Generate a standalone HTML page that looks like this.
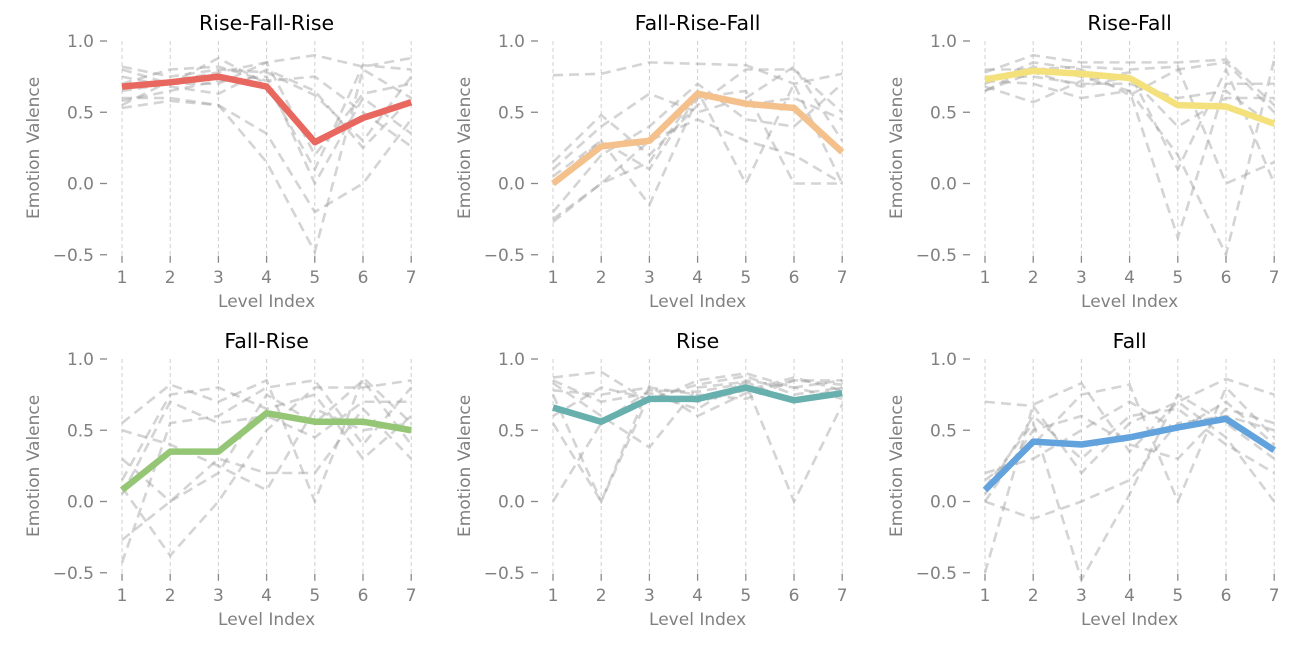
<!DOCTYPE html>
<html><head><meta charset="utf-8">
<style>
html,body{margin:0;padding:0;background:#fff;}
svg{display:block;font-family:"DejaVu Sans","Liberation Sans",sans-serif;}
</style></head>
<body>
<svg id="chart" width="1298" height="648" viewBox="0 0 1298 648" xmlns="http://www.w3.org/2000/svg"></svg>
<script>
const levels = [1,2,3,4,5,6,7];
const yTicks = [1.0, 0.5, 0.0, -0.5];
const yTickLabels = ["1.0","0.5","0.0","\u22120.5"];
const titles = ["Rise-Fall-Rise","Fall-Rise-Fall","Rise-Fall","Fall-Rise","Rise","Fall"];
const colors = ["#e8675f","#f4c08b","#f5e17b","#95c675","#67b0ae","#62a3dd"];
const meanRFR = [0.68,0.71,0.75,0.68,0.29,0.46,0.57];
const meanFRF = [0.00,0.26,0.30,0.63,0.56,0.53,0.22];
const meanRF  = [0.73,0.79,0.77,0.74,0.55,0.54,0.42];
const meanFR  = [0.08,0.35,0.35,0.62,0.56,0.56,0.50];
const meanR   = [0.66,0.56,0.72,0.72,0.80,0.71,0.76];
const meanF   = [0.08,0.42,0.40,0.45,0.52,0.58,0.36];
const grayRFR = [
 [0.80,0.70,0.88,0.70,0.10,0.83,0.80],[0.55,0.72,0.78,0.85,0.90,0.82,0.88],
 [0.75,0.68,0.63,0.80,0.65,0.25,0.60],[0.60,0.60,0.55,0.35,-0.20,0.00,0.45],
 [0.70,0.80,0.82,0.72,0.75,0.50,0.26],[0.53,0.58,0.55,0.15,-0.48,0.80,0.60],
 [0.82,0.75,0.80,0.78,0.62,0.30,0.75],[0.65,0.70,0.70,0.85,0.20,0.63,0.70],
 [0.58,0.65,0.72,0.75,0.00,0.60,0.35]];
const grayFRF = [
 [0.76,0.77,0.85,0.84,0.83,0.70,0.77],[-0.25,0.00,0.15,0.65,0.00,0.70,0.00],
 [0.15,0.48,0.20,0.55,0.80,0.80,0.50],[-0.27,0.00,0.30,0.45,0.30,0.20,0.00],
 [0.00,0.30,-0.15,0.60,0.65,0.00,0.00],[0.10,0.40,0.63,0.50,0.60,0.82,0.30],
 [-0.20,0.20,0.40,0.70,0.45,0.40,0.70],[0.05,0.30,0.10,0.62,0.55,0.60,0.45]];
const grayRF = [
 [0.78,0.90,0.85,0.85,0.85,0.87,0.55],[0.65,0.82,0.75,0.65,-0.38,0.70,0.70],
 [0.72,0.70,0.60,0.65,0.20,-0.50,0.87],[0.80,0.80,0.82,0.80,0.82,0.00,0.15],
 [0.68,0.57,0.72,0.78,0.10,0.80,0.00],[0.75,0.75,0.70,0.70,0.60,0.65,0.40],
 [0.70,0.85,0.80,0.62,0.80,0.85,0.50],[0.65,0.78,0.68,0.75,0.40,0.60,0.60]];
const grayFR = [
 [0.55,0.82,0.70,0.85,0.00,0.87,0.55],[-0.43,0.55,0.60,0.80,0.85,0.40,0.80],
 [0.10,-0.38,0.00,0.50,0.80,0.80,0.85],[-0.27,0.00,0.30,0.20,0.20,0.65,0.30],
 [0.15,0.75,0.80,0.65,0.75,0.30,0.60],[0.30,0.00,0.20,0.75,0.55,0.85,0.40],
 [0.05,0.70,0.55,0.60,0.45,0.70,0.70],[0.50,0.40,0.25,0.08,0.65,0.50,0.55]];
const grayR = [
 [0.87,0.91,0.70,0.85,0.90,0.80,0.85],[0.00,0.55,0.78,0.77,0.83,0.00,0.68],
 [0.55,0.00,0.81,0.60,0.76,0.85,0.82],[0.83,0.60,0.38,0.80,0.84,0.70,0.80],
 [0.75,0.00,0.75,0.65,0.85,0.80,0.72],[0.78,0.75,0.80,0.75,0.72,0.85,0.85],
 [0.60,0.80,0.72,0.82,0.88,0.75,0.80],[0.85,0.70,0.76,0.70,0.78,0.87,0.78]];
const grayF = [
 [0.70,0.67,0.20,0.55,0.70,0.86,0.75],[-0.50,0.68,0.83,0.35,0.70,0.45,0.00],
 [0.00,-0.12,0.00,0.15,0.55,0.60,0.50],[0.10,0.55,-0.55,0.05,0.75,0.55,0.30],
 [0.15,0.40,0.75,0.82,0.00,0.80,0.45],[0.05,0.60,0.30,0.60,0.65,0.40,0.20],
 [0.20,0.30,0.50,0.70,0.50,0.70,0.40],[0.00,0.50,0.60,0.40,0.30,0.65,0.55]];
const means = [meanRFR,meanFRF,meanRF,meanFR,meanR,meanF];
const grays = [grayRFR,grayFRF,grayRF,grayFR,grayR,grayF];

const NS = "http://www.w3.org/2000/svg";
const svg = document.getElementById("chart");
function mk(tag, attrs, parent){
  const e = document.createElementNS(NS, tag);
  for (const k in attrs) e.setAttribute(k, attrs[k]);
  parent.appendChild(e);
  return e;
}
const colX = [122, 553, 985];
const rowY = [41, 359];
const xStep = 48.2;
const yScale = 142.5;
for (let p = 0; p < 6; p++){
  const x0 = colX[p % 3], yTop = rowY[Math.floor(p / 3)];
  const xs = v => x0 + (v - 1) * xStep;
  const ys = v => yTop + (1.0 - v) * yScale;
  const g = mk("g", {}, svg);
  
  
  levels.forEach(l => {
    const gl = mk("line", {x1: xs(l), x2: xs(l), y1: ys(1.0), y2: ys(-0.5), stroke: "#d0d0d0", "stroke-width": 1, "stroke-dasharray": "4,3"}, g);
    
    
    const tm = mk("line", {x1: xs(l), x2: xs(l), y1: ys(-0.5) + 1, y2: ys(-0.5) + 8, stroke: "#888", "stroke-width": 1.3}, g);
    
    
    const tl = mk("text", {x: xs(l), y: ys(-0.5) + 28, "text-anchor": "middle", "font-size": 17, fill: "#808080"}, g);
    tl.textContent = l;
    
    
  });
  yTicks.forEach((t, i) => {
    const tm = mk("line", {x1: x0 - 22, x2: x0 - 15, y1: ys(t), y2: ys(t), stroke: "#888", "stroke-width": 1.3}, g);
    
    
    const tl = mk("text", {x: x0 - 28, y: ys(t) + 6, "text-anchor": "end", "font-size": 17, fill: "#808080"}, g);
    tl.textContent = yTickLabels[i];
    
    
  });
  grays[p].forEach(series => {
    const pl = mk("polyline", {points: series.map((v, i) => xs(levels[i]) + "," + ys(v)).join(" "), fill: "none", stroke: "#a0a0a0", "stroke-opacity": 0.45, "stroke-width": 2.6, "stroke-dasharray": "10,6"}, g);
    
    
  });
  const ml = mk("polyline", {points: means[p].map((v, i) => xs(levels[i]) + "," + ys(v)).join(" "), fill: "none", stroke: colors[p], "stroke-width": 6.5, "stroke-linejoin": "round"}, g);
  
  
  const tt = mk("text", {x: xs(4), y: yTop - 11, "text-anchor": "middle", "font-size": 20.5, fill: "#000"}, g);
  tt.textContent = titles[p];
  
  
  const xl = mk("text", {x: xs(4), y: ys(-0.5) + 52, "text-anchor": "middle", "font-size": 17, fill: "#808080"}, g);
  xl.textContent = "Level Index";
  
  
  const yx = x0 - 83, yy = ys(0.25);
  const yl = mk("text", {x: yx, y: yy, "text-anchor": "middle", "font-size": 17, fill: "#808080", transform: "rotate(-90 " + yx + " " + yy + ")"}, g);
  yl.textContent = "Emotion Valence";
  
  
}
</script>
</body></html>
